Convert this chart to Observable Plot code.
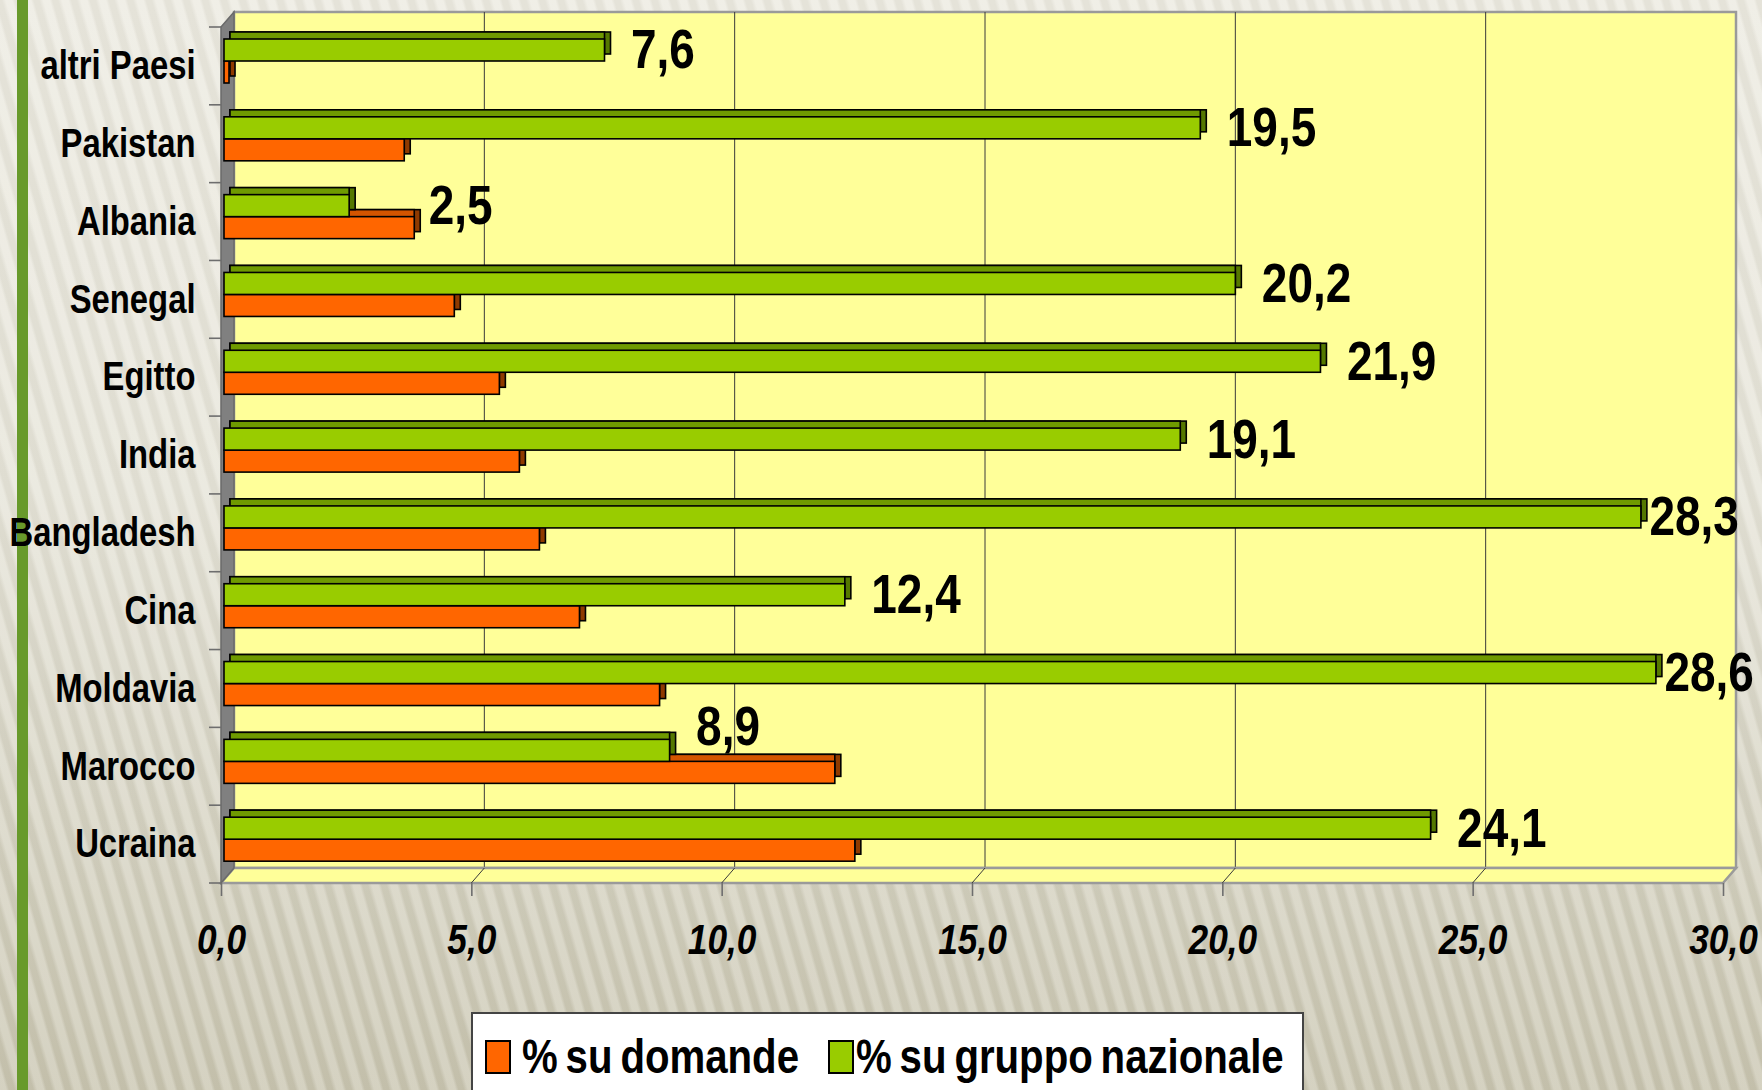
<!DOCTYPE html>
<html>
<head>
<meta charset="utf-8">
<script src="https://cdn.jsdelivr.net/npm/d3@7"></script>
<script src="https://cdn.jsdelivr.net/npm/@observablehq/plot@0.6"></script>
<style>
html, body { margin: 0; padding: 0; width: 1762px; height: 1090px; overflow: hidden; }
body {
  position: relative;
  background:
    repeating-linear-gradient(74deg, rgba(255,255,255,0.22) 0px, rgba(255,255,255,0.22) 6px, rgba(0,0,0,0.03) 9px, rgba(0,0,0,0.03) 14px, rgba(255,255,255,0.22) 18px),
    linear-gradient(to bottom, #eceae0 0%, #e6e4d8 45%, #d6d3c2 75%, #c9c5b0 100%);
}
#greenbar { position: absolute; left: 17px; top: 0; width: 11px; height: 1090px; background: #689a2b; }
#chart { position: absolute; left: 0; top: 0; }
#legend {
  position: absolute; left: 471px; top: 1012px; width: 833px; height: 110px;
  background: #ffffff; border: 2px solid #444; box-sizing: border-box;
  font-family: "Liberation Sans", Arial, sans-serif;
  font-weight: bold; font-size: 49px; color: #000;
}
#legend .sw { position: absolute; top: 26px; width: 22px; height: 30px; border: 2px solid #000; }
#legend .lt { position: absolute; top: 18px; line-height: 49px; white-space: nowrap; transform: scaleX(0.82); transform-origin: 0 0; word-spacing: -4px; }
</style>
</head>
<body>
<div id="greenbar"></div>
<div id="chart"></div>
<div id="legend"></div>
<script>
// ---- data ----
const countries = ["altri Paesi", "Pakistan", "Albania", "Senegal", "Egitto", "India", "Bangladesh", "Cina", "Moldavia", "Marocco", "Ucraina"];
const pctGruppoNazionale = [7.6, 19.5, 2.5, 20.2, 21.9, 19.1, 28.3, 12.4, 28.6, 8.9, 24.1];
const pctDomande = [0.1, 3.6, 3.8, 4.6, 5.5, 5.9, 6.3, 7.1, 8.7, 12.2, 12.6];
const xTicks = [0, 5, 10, 15, 20, 25, 30];
const seriesNames = ["% su domande", "% su gruppo nazionale"];
const seriesColors = ["#FF6600", "#99CC00"];

// ---- layout / style ----
const W = 1762, H = 1000;
const FONT = "'Liberation Sans', Arial, sans-serif";
const NARROW = 0.82; // Arial Narrow look: horizontal compression of glyphs
const Y_TOP = 27, Y_BOT = 883;
const STEP = (Y_BOT - Y_TOP) / countries.length;
const G_TOP = 12, MID = 34, O_BOT = 56;       // offsets inside each band
const DEPTH_X = 6, DEPTH_Y = -7, BAR_DX = 3;   // bar extrusion
const WALL_X = 13, WALL_Y = -15;               // chart 3D wall depth
const ORANGE_SIDE = "#8f3a00", ORANGE_TOP = "#d45500";
const GREEN_SIDE = "#557800", GREEN_TOP = "#6f9a00";

const fmt = v => v.toFixed(1).replace(".", ",");

const domande = countries.map((c, i) => ({country: c, value: pctDomande[i]}));
const gruppo = countries.map((c, i) => ({country: c, value: pctGruppoNazionale[i], other: pctDomande[i]}));

function bar3d(data, frontFill, topFill, sideFill, insetTop, insetBottom) {
  const common = {x: "value", y: "country", insetTop, insetBottom, stroke: "#000", strokeWidth: 1.6};
  return [
    Plot.barX(data, {...common, fill: sideFill, dx: BAR_DX + DEPTH_X, dy: DEPTH_Y}),
    Plot.barX(data, {...common, fill: topFill, dx: BAR_DX + DEPTH_X, dy: DEPTH_Y, insetRight: DEPTH_X}),
    Plot.barX(data, {...common, fill: frontFill, dx: BAR_DX})
  ];
}

const greenCenterDy = (G_TOP + MID) / 2 - STEP / 2;
const labelStyle = {y: "country", text: d => fmt(d.value), textAnchor: "start",
  fontSize: 56, fontWeight: "bold", fontFamily: FONT, fill: "#000"};

const besideGreen = gruppo.filter(d => d.other <= d.value && d.value < 27);
const nearWall = gruppo.filter(d => d.value >= 27);
const pastOrange = gruppo.filter(d => d.other > d.value && d.other - d.value < 2);
const raised = gruppo.filter(d => d.other > d.value && d.other - d.value >= 2);

const chart = Plot.plot({
  width: W,
  height: H,
  marginLeft: 221,
  marginRight: 39,
  marginTop: Y_TOP,
  marginBottom: H - Y_BOT,
  style: {background: "transparent", overflow: "visible"},
  x: {domain: [0, 30], label: null},
  y: {domain: countries, padding: 0, round: false, label: null},
  marks: [
    ...bar3d(domande, seriesColors[0], ORANGE_TOP, ORANGE_SIDE, MID, STEP - O_BOT),
    ...bar3d(gruppo, seriesColors[1], GREEN_TOP, GREEN_SIDE, G_TOP, STEP - MID),
    Plot.text(besideGreen, {...labelStyle, x: "value", dx: BAR_DX + 26, dy: greenCenterDy}),
    Plot.text(nearWall, {...labelStyle, x: "value", dx: BAR_DX + 8, dy: greenCenterDy}),
    Plot.text(pastOrange, {...labelStyle, x: "other", dx: BAR_DX + 14, dy: greenCenterDy}),
    Plot.text(raised, {...labelStyle, x: "value", dx: BAR_DX + 26, dy: greenCenterDy - 24}),
    Plot.axisX({
      ticks: xTicks, tickFormat: fmt, tickSize: 13, tickPadding: 27,
      fontSize: 43, fontWeight: "bold", fontStyle: "italic", fontFamily: FONT,
      stroke: "#6e6e6e", strokeWidth: 1.6, fill: "#000", label: null
    }),
    Plot.axisY({
      tickSize: 0, tickPadding: 26,
      fontSize: 40, fontWeight: "bold", fontFamily: FONT, fill: "#000", label: null
    })
  ]
});

// ---- 3D walls drawn with the chart's own scales ----
const sx = chart.scale("x");
const sy = chart.scale("y");
const X = v => sx.apply(v);
const [r0, r1] = sy.range;
const yTop = Math.min(r0, r1), yBot = Math.max(r0, r1);
const step = (yBot - yTop) / sy.domain.length;

const svg = d3.select(chart);
const deco = svg.insert("g", ":first-child").attr("class", "walls");
deco.append("rect")
  .attr("x", X(0) + WALL_X).attr("y", yTop + WALL_Y)
  .attr("width", X(30) - X(0)).attr("height", yBot - yTop)
  .attr("fill", "#FFFF99").attr("stroke", "#9a9a9a").attr("stroke-width", 2.5);
deco.selectAll("line.grid").data(xTicks.slice(1, -1)).join("line")
  .attr("class", "grid")
  .attr("x1", d => X(d) + WALL_X).attr("x2", d => X(d) + WALL_X)
  .attr("y1", yTop + WALL_Y).attr("y2", yBot + WALL_Y)
  .attr("stroke", "#3a3a3a").attr("stroke-width", 1);
deco.append("polygon")
  .attr("points", [[X(0), yBot], [X(30), yBot], [X(30) + WALL_X, yBot + WALL_Y], [X(0) + WALL_X, yBot + WALL_Y]].map(p => p.join(",")).join(" "))
  .attr("fill", "#FFFF99").attr("stroke", "#9a9a9a").attr("stroke-width", 2.5);
deco.selectAll("line.floor").data(xTicks.slice(1, -1)).join("line")
  .attr("class", "floor")
  .attr("x1", d => X(d)).attr("x2", d => X(d) + WALL_X)
  .attr("y1", yBot).attr("y2", yBot + WALL_Y)
  .attr("stroke", "#3a3a3a").attr("stroke-width", 1);
deco.append("polygon")
  .attr("points", [[X(0), yTop], [X(0) + WALL_X, yTop + WALL_Y], [X(0) + WALL_X, yBot + WALL_Y], [X(0), yBot]].map(p => p.join(",")).join(" "))
  .attr("fill", "#808080").attr("stroke", "#6a6a6a").attr("stroke-width", 1.5);
deco.selectAll("line.ytick").data(d3.range(sy.domain.length + 1)).join("line")
  .attr("class", "ytick")
  .attr("x1", X(0) - 12).attr("x2", X(0))
  .attr("y1", i => yTop + i * step).attr("y2", i => yTop + i * step)
  .attr("stroke", "#6e6e6e").attr("stroke-width", 1.6);

document.getElementById("chart").appendChild(chart);

// narrow (condensed) look for all chart texts
chart.querySelectorAll("text").forEach(t => {
  const w = t.getComputedTextLength();
  if (w > 0) {
    t.setAttribute("textLength", (w * NARROW).toFixed(2));
    t.setAttribute("lengthAdjust", "spacingAndGlyphs");
  }
});

// ---- legend ----
const legend = d3.select("#legend");
const swLeft = [12, 355], txtLeft = [49, 383];
seriesNames.forEach((name, i) => {
  legend.append("div").attr("class", "sw").style("left", swLeft[i] + "px").style("background", seriesColors[i]);
  legend.append("div").attr("class", "lt").style("left", txtLeft[i] + "px").text(name);
});
</script>
</body>
</html>
